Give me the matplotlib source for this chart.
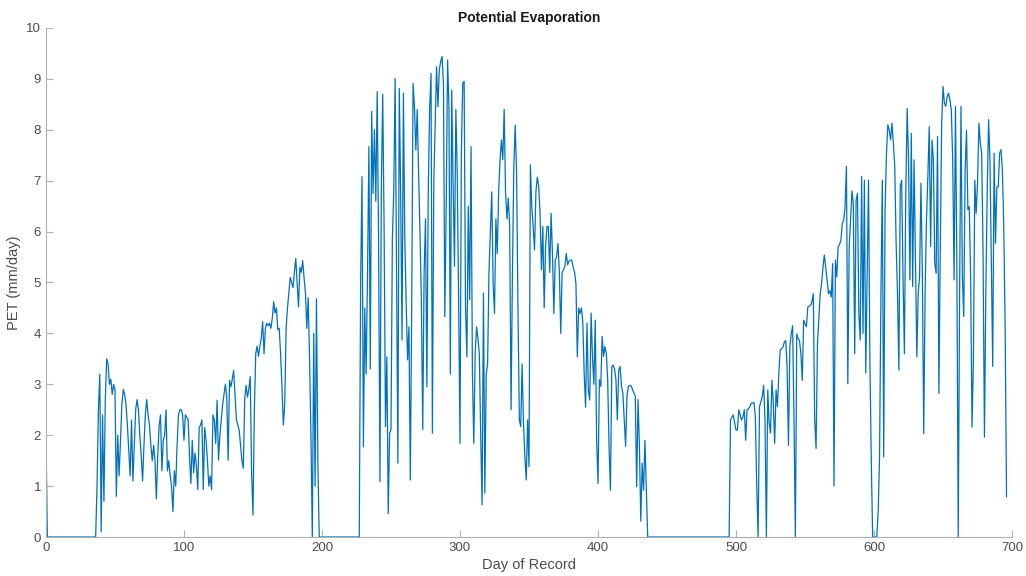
import numpy as np
import matplotlib
matplotlib.use("Agg")
import matplotlib.pyplot as plt

# Daily potential evaporation (mm/day)
# first season: days 0-199
pet_season1 = [
    2.0, 0, 0, 0, 0, 0, 0, 0, 0, 0,
    0, 0, 0, 0, 0, 0, 0, 0, 0, 0,
    0, 0, 0, 0, 0, 0, 0, 0, 0, 0,
    0, 0, 0, 0, 0, 0, 0.0, 1.0, 2.5, 3.2,
    0.1, 2.4, 0.7, 2.7, 3.5, 3.4, 3.0, 3.1, 2.8, 3.0,
    2.9, 0.8, 2.0, 1.2, 1.9, 2.6, 2.9, 2.8, 2.6, 2.2,
    1.7, 1.2, 2.3, 1.1, 1.8, 2.5, 2.7, 2.5, 2.0, 1.6,
    1.1, 1.8, 2.4, 2.7, 2.4, 2.2, 1.8, 1.5, 1.8, 1.5,
    0.75, 1.6, 2.2, 2.4, 1.3, 1.9, 2.0, 2.5, 1.3, 1.5,
    1.2, 1.0, 0.5, 1.3, 1.0, 1.8, 2.4, 2.5, 2.5, 2.4,
    1.9, 2.4, 2.35, 2.3, 1.6, 1.05, 1.9, 1.26, 1.65, 1.4,
    0.93, 2.15, 2.2, 2.3, 0.93, 2.15, 1.9, 1.5, 1.0, 1.2,
    0.93, 2.4, 2.3, 1.84, 2.69, 1.51, 2.0, 2.3, 2.6, 2.8,
    3.0, 2.76, 1.51, 3.08, 2.95, 3.1, 3.27, 2.8, 2.3, 2.2,
    2.1, 1.8, 1.5, 1.35, 2.7, 2.98, 2.75, 2.9, 3.15, 1.26,
    0.43, 2.5, 3.6, 3.75, 3.55, 3.75, 3.9, 4.23, 3.6, 4.1,
    4.2, 4.15, 4.2, 4.1, 4.3, 4.62, 4.4, 4.5, 4.07, 4.1,
    3.6, 2.96, 2.2, 2.6, 4.1, 4.5, 4.8, 5.1, 5.0, 4.9,
    5.2, 5.47, 5.0, 4.52, 5.3, 5.2, 5.43, 5.1, 4.8, 4.1,
    4.7, 3.5, 2.0, 0.0, 4.0, 1.0, 4.68, 1.5, 0.0, 0.0,
]

# second season: days 200-439
pet_season2 = [
    0, 0, 0, 0, 0, 0, 0, 0, 0, 0,
    0, 0, 0, 0, 0, 0, 0, 0, 0, 0,
    0, 0, 0, 0, 0, 0, 0, 0, 5.0, 7.08,
    1.77, 4.5, 3.2, 5.2, 7.67, 3.3, 8.36, 6.75, 8.0, 6.6,
    8.75, 5.86, 1.09, 6.82, 8.7, 6.1, 2.17, 3.54, 0.46, 2.04,
    2.11, 5.86, 6.78, 9.01, 5.2, 1.45, 8.81, 6.78, 3.87, 8.72,
    5.86, 4.6, 3.48, 4.13, 1.12, 4.5, 8.91, 8.45, 7.6, 8.4,
    7.14, 6.0, 4.66, 2.11, 5.2, 6.25, 2.95, 6.78, 8.4, 9.11,
    2.04, 6.95, 8.13, 9.24, 8.45, 9.18, 9.34, 9.44, 8.92, 4.33,
    6.5, 9.37, 8.45, 3.2, 8.78, 6.95, 5.32, 8.4, 7.14, 4.66,
    1.84, 7.6, 8.92, 8.95, 4.5, 3.54, 6.5, 4.66, 7.67, 3.2,
    1.84, 3.6, 4.13, 3.9, 3.6, 2.0, 0.63, 4.79, 0.86, 3.2,
    3.4, 5.2, 6.0, 6.78, 4.98, 4.39, 6.25, 5.57, 6.78, 7.4,
    7.8, 7.41, 8.4, 6.78, 6.25, 6.66, 6.1, 2.5, 5.2, 7.28,
    8.09, 7.14, 4.5, 2.3, 2.17, 3.4, 2.24, 1.58, 1.12, 2.3,
    1.38, 7.31, 6.5, 6.1, 5.64, 6.78, 7.07, 6.9, 6.36, 5.25,
    6.1, 4.5, 5.7, 6.1, 6.1, 5.2, 6.36, 5.57, 4.39, 5.44,
    5.5, 5.77, 5.2, 4.0, 5.2, 5.25, 5.32, 5.57, 5.35, 5.42,
    5.44, 5.44, 5.3, 5.2, 4.98, 3.54, 4.5, 4.39, 4.5, 4.2,
    3.2, 2.55, 4.2, 2.88, 2.69, 4.4, 3.54, 3.0, 4.26, 1.9,
    1.05, 3.09, 2.96, 3.94, 3.55, 3.74, 3.61, 3.09, 1.78, 0.92,
    3.35, 3.38, 3.3, 3.09, 2.3, 3.28, 3.35, 2.96, 2.83, 2.3,
    1.78, 2.77, 2.96, 2.98, 2.97, 2.9, 2.83, 2.77, 0.99, 2.7,
    1.78, 0.31, 1.45, 0.92, 1.9, 0.92, 0, 0, 0, 0,
]

# third season: days 440-696
pet_season3 = [
    0, 0, 0, 0, 0, 0, 0, 0, 0, 0,
    0, 0, 0, 0, 0, 0, 0, 0, 0, 0,
    0, 0, 0, 0, 0, 0, 0, 0, 0, 0,
    0, 0, 0, 0, 0, 0, 0, 0, 0, 0,
    0, 0, 0, 0, 0, 0, 0, 0, 0, 0,
    0, 0, 0, 0, 0, 0, 2.3, 2.35, 2.4, 2.24,
    2.1, 2.1, 2.5, 2.4, 2.3, 2.36, 2.5, 1.9, 2.5, 2.52,
    2.56, 2.63, 2.63, 2.64, 2.36, 1.0, 0.0, 2.56, 2.66, 2.76,
    2.98, 2.3, 0.0, 2.89, 2.24, 2.04, 3.08, 2.63, 1.84, 2.89,
    2.56, 3.21, 3.67, 3.7, 3.73, 3.83, 3.86, 3.34, 1.8, 3.73,
    3.99, 4.15, 2.3, 0.0, 3.99, 3.9, 3.86, 3.6, 3.08, 4.26,
    4.19, 4.13, 4.52, 4.53, 4.55, 4.62, 4.78, 2.3, 1.74, 3.8,
    4.3, 4.78, 4.98, 5.3, 5.54, 5.3, 5.04, 4.78, 4.84, 4.71,
    5.37, 1.0, 5.44, 5.11, 5.7, 5.75, 5.83, 6.16, 6.22, 6.49,
    7.28, 3.01, 5.7, 6.22, 6.8, 6.55, 3.6, 6.62, 6.75, 4.39,
    3.87, 7.08, 4.0, 7.01, 3.22, 5.11, 7.01, 3.48, 1.51, 0.0,
    0.0, 0.0, 0.0, 0.5, 1.57, 4.79, 7.01, 1.57, 6.43, 7.54,
    8.1, 8.0, 7.8, 8.13, 7.74, 7.28, 5.77, 4.79, 3.28, 6.88,
    7.01, 5.11, 3.6, 6.75, 8.42, 7.41, 5.05, 7.93, 4.92, 7.41,
    5.44, 3.54, 4.79, 5.11, 6.95, 5.18, 2.03, 4.79, 6.23, 7.08,
    8.06, 5.71, 7.8, 7.41, 5.38, 5.18, 7.87, 2.82, 5.64, 8.13,
    8.85, 8.52, 8.46, 8.65, 8.72, 8.59, 8.39, 7.41, 5.05, 8.46,
    5.44, 0.0, 4.79, 8.46, 5.11, 4.33, 7.2, 7.99, 6.43, 6.49,
    5.11, 2.16, 3.48, 7.01, 6.36, 6.95, 8.13, 7.74, 7.54, 5.57,
    1.96, 4.79, 6.75, 8.2, 7.41, 5.31, 3.35, 7.54, 5.77, 6.88,
    6.88, 7.54, 7.61, 7.2, 6.1, 4.13, 0.79,
]

pet = np.array(pet_season1 + pet_season2 + pet_season3)
days = np.arange(len(pet))

plt.rcParams['font.family'] = ['Liberation Sans', 'DejaVu Sans']

fig = plt.figure(figsize=(10.26, 5.76), dpi=100)
ax = fig.add_axes([0.0448, 0.0677, 0.9416, 0.8837])

ax.plot(days, pet, color='#0072BD', linewidth=0.9)

ax.set_xlim(0, 700)
ax.set_ylim(0, 10)
ax.set_xticks(range(0, 701, 100))
ax.set_yticks(range(0, 11))

# MATLAB-like look: box off, ticks pointing in, grey text
for side in ['top', 'right']:
    ax.spines[side].set_visible(False)
for side in ['left', 'bottom']:
    ax.spines[side].set_color('#b0b0b0')
    ax.spines[side].set_linewidth(0.8)
ax.tick_params(direction='in', length=5, width=0.8, color='#b0b0b0',
               labelcolor='#4d4d4d', labelsize=9.5)

ax.set_xlabel("Day of Record", fontsize=10.5, color='#4d4d4d', labelpad=3)
ax.set_ylabel("PET (mm/day)", fontsize=10.5, color='#4d4d4d', labelpad=4)
ax.set_title("Potential Evaporation", fontsize=10, fontweight='bold', color='#1a1a1a', pad=4)

fig.savefig("out.png", dpi=100)
